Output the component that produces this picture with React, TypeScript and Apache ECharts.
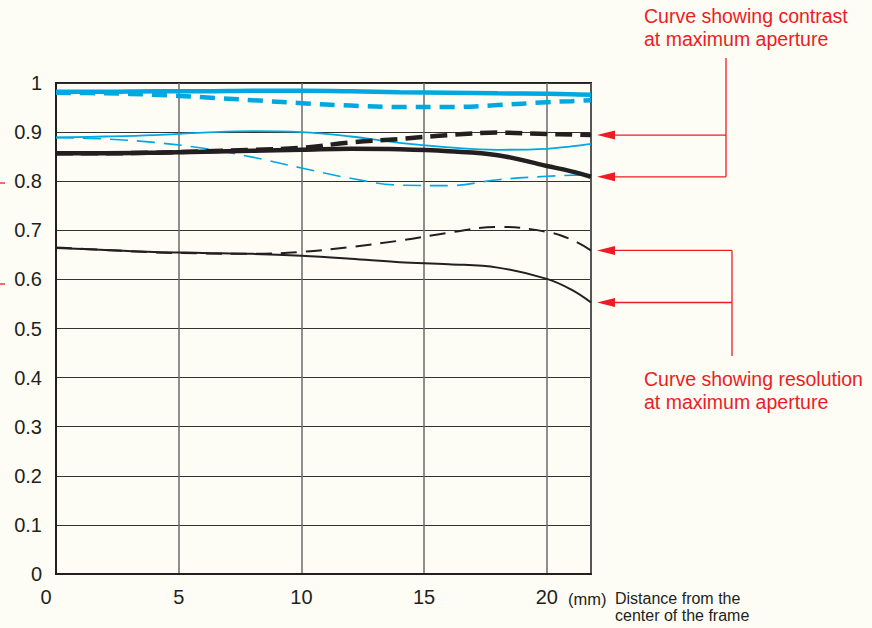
import React, { useEffect, useRef } from "react";
import * as echarts from "echarts";

// distance from the center of the frame (mm)
const distances = [0, 2, 4, 6, 8, 10, 12, 14, 16, 18, 20, 21, 21.8];

// contrast curves (thick = 10 lines/mm, thin = 30 lines/mm)
const blueThickSolid = [0.982, 0.982, 0.983, 0.983, 0.984, 0.984, 0.983, 0.981, 0.98, 0.979, 0.978, 0.977, 0.976];
const blueThickDashed = [0.98, 0.979, 0.976, 0.971, 0.965, 0.959, 0.954, 0.951, 0.951, 0.955, 0.961, 0.963, 0.965];
const blueThinSolid = [0.889, 0.891, 0.894, 0.899, 0.902, 0.9, 0.891, 0.878, 0.869, 0.864, 0.866, 0.871, 0.876];
const blueThinDashed = [0.889, 0.886, 0.879, 0.867, 0.849, 0.827, 0.806, 0.792, 0.791, 0.803, 0.81, 0.812, 0.813];
const blackThickSolid = [0.857, 0.857, 0.858, 0.86, 0.862, 0.864, 0.866, 0.865, 0.861, 0.853, 0.831, 0.82, 0.809];
const blackThickDashed = [0.857, 0.857, 0.858, 0.861, 0.864, 0.868, 0.879, 0.886, 0.894, 0.899, 0.896, 0.895, 0.894];
const blackThinSolid = [0.664, 0.66, 0.656, 0.654, 0.652, 0.648, 0.642, 0.635, 0.631, 0.624, 0.601, 0.579, 0.553];
const blackThinDashed = [0.665, 0.66, 0.655, 0.653, 0.652, 0.656, 0.666, 0.679, 0.695, 0.707, 0.697, 0.681, 0.659];

const xTicks = [0, 5, 10, 15, 20];
const xMax = 21.8;

const BLUE = "#00a8e1";
const BLACK = "#231f20";
const RED = "#ed1c24";
const BG = "#fdfdf5";
const FONT = "'Liberation Sans', Arial, sans-serif";

const pair = (vals: number[]) => distances.map((d, i) => [d, vals[i]]);

export default function App() {
  const ref = useRef<HTMLDivElement>(null);

  useEffect(() => {
    if (!ref.current) return;
    const chart = echarts.init(ref.current, null, { renderer: "svg" });

    const mk = (name: string, vals: number[], color: string, width: number, dash?: number[]) => ({
      name,
      type: "line",
      data: pair(vals),
      smooth: 0.4,
      showSymbol: false,
      symbol: "none",
      silent: true,
      lineStyle: { color, width, type: dash ? dash : "solid", cap: "butt" },
    });

    chart.setOption({
      animation: false,
      backgroundColor: BG,
      grid: {
        left: 56,
        top: 83,
        right: 281,
        bottom: 54,
        show: true,
        borderColor: BLACK,
        borderWidth: 2,
        backgroundColor: "transparent",
      },
      xAxis: {
        type: "value",
        min: 0,
        max: xMax,
        interval: 5,
        axisLine: { show: true, lineStyle: { color: BLACK, width: 2 } },
        axisTick: { show: false },
        splitLine: { show: true, lineStyle: { color: "#6a6a6a", width: 1.5 } },
        axisLabel: {
          margin: 13,
          fontSize: 20,
          color: BLACK,
          fontFamily: FONT,
          formatter: (v: number) => (xTicks.includes(v) ? (v === 0 ? "{z|0}" : String(v)) : ""),
          rich: { z: { padding: [0, 20, 0, 0], fontSize: 20, color: BLACK, fontFamily: FONT } },
        },
      },
      yAxis: {
        type: "value",
        min: 0,
        max: 1,
        interval: 0.1,
        axisLine: { show: true, lineStyle: { color: BLACK, width: 2 } },
        axisTick: { show: false },
        splitLine: { show: true, lineStyle: { color: "#333333", width: 1 } },
        axisLabel: {
          margin: 14,
          fontSize: 20,
          color: BLACK,
          fontFamily: FONT,
          padding: [7, 0, 0, 0],
          formatter: (v: number) => (Math.abs(v) < 1e-9 ? "0" : Math.abs(v - 1) < 1e-9 ? "1" : v.toFixed(1)),
        },
      },
      series: [
        mk("blueThinDashed", blueThinDashed, BLUE, 1.6, [18, 9]),
        mk("blueThinSolid", blueThinSolid, BLUE, 1.8),
        mk("blueThickDashed", blueThickDashed, BLUE, 4.5, [15, 9]),
        mk("blueThickSolid", blueThickSolid, BLUE, 4.5),
        mk("blackThinDashed", blackThinDashed, BLACK, 2, [16, 9]),
        mk("blackThinSolid", blackThinSolid, BLACK, 2),
        mk("blackThickDashed", blackThickDashed, BLACK, 4.5, [17, 8]),
        mk("blackThickSolid", blackThickSolid, BLACK, 4.5),
      ],
    });

    const px = (x: number, y: number) => chart.convertToPixel({ gridIndex: 0 }, [x, y]) as number[];
    const last = (a: number[]) => a[a.length - 1];
    const tipX = px(xMax, 0)[0] + 6;

    const arrow = (y: number, toX: number) => [
      { type: "polygon", shape: { points: [[tipX, y], [tipX + 18, y - 4.5], [tipX + 18, y + 4.5]] }, style: { fill: RED }, silent: true },
      { type: "line", shape: { x1: tipX + 16, y1: y, x2: toX, y2: y }, style: { stroke: RED, lineWidth: 1.3 }, silent: true },
    ];

    const cTop = px(xMax, last(blackThickDashed))[1];
    const cBot = px(xMax, last(blackThickSolid))[1];
    const rTop = px(xMax, last(blackThinDashed))[1];
    const rBot = px(xMax, last(blackThinSolid))[1];
    const cX = 726;
    const rX = 732;

    const redText = (text: string, x: number, y: number) => ({
      type: "text",
      x,
      y,
      silent: true,
      style: { text, fill: RED, font: `19.5px ${FONT}`, lineHeight: 23, verticalAlign: "top", align: "left" },
    });
    const blackText = (text: string, x: number, y: number, size: number, lh: number) => ({
      type: "text",
      x,
      y,
      silent: true,
      style: { text, fill: BLACK, font: `${size}px ${FONT}`, lineHeight: lh, verticalAlign: "top", align: "left" },
    });

    chart.setOption({
      graphic: [
        ...arrow(cTop, cX),
        ...arrow(cBot, cX),
        { type: "line", shape: { x1: cX, y1: 58, x2: cX, y2: cBot }, style: { stroke: RED, lineWidth: 1.3 }, silent: true },
        ...arrow(rTop, rX),
        ...arrow(rBot, rX),
        { type: "line", shape: { x1: rX, y1: rTop, x2: rX, y2: 356 }, style: { stroke: RED, lineWidth: 1.3 }, silent: true },
        redText("Curve showing contrast\nat maximum aperture", 644, 4),
        redText("Curve showing resolution\nat maximum aperture", 644, 367),
        { type: "line", shape: { x1: 0, y1: 183, x2: 5, y2: 183 }, style: { stroke: RED, lineWidth: 1.3 }, silent: true },
        { type: "line", shape: { x1: 0, y1: 284, x2: 5, y2: 284 }, style: { stroke: RED, lineWidth: 1.3 }, silent: true },
        blackText("(mm)", 568, 590, 16.5, 17),
        blackText("Distance from the\ncenter of the frame", 615, 590, 16, 16.7),
      ],
    });

    return () => chart.dispose();
  }, []);

  return <div ref={ref} style={{ position: "absolute", left: 0, top: 0, width: 872, height: 628 }} />;
}
